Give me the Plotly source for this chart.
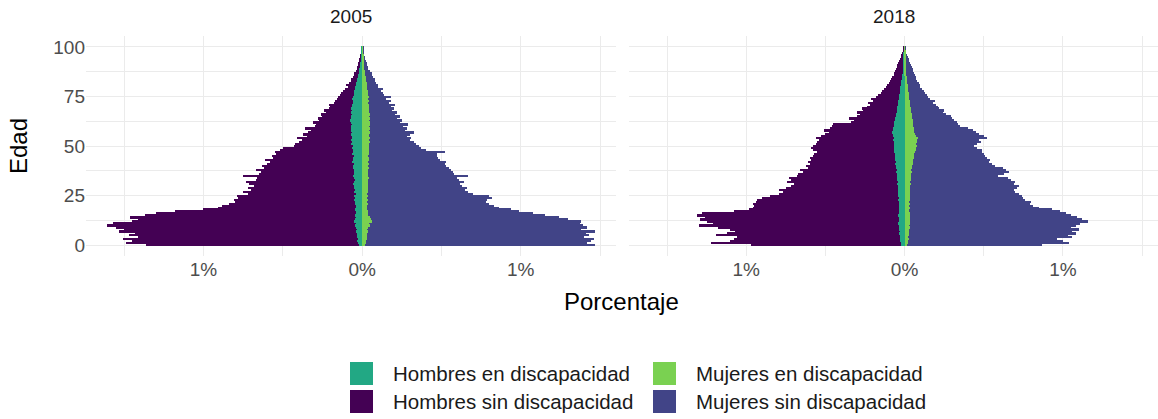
import plotly.graph_objects as go

ages = list(range(0, 101))

# ---- 2005 ----
hombres_sin_2005 = [
    -1.36, -1.49, -1.45, -1.51, -1.41, -1.47, -1.43, -1.53, -1.50, -1.55,
    -1.61, -1.57, -1.45, -1.41, -1.46, -1.37, -1.30, -1.18, -1.00, -0.91,
    -0.88, -0.84, -0.80, -0.81, -0.78, -0.79, -0.72, -0.75, -0.70, -0.72,
    -0.68, -0.71, -0.73, -0.67, -0.66, -0.75, -0.65, -0.64, -0.67, -0.62,
    -0.63, -0.60, -0.58, -0.61, -0.56, -0.57, -0.54, -0.55, -0.52, -0.50,
    -0.43, -0.42, -0.40, -0.38, -0.41, -0.35, -0.37, -0.34, -0.32, -0.36,
    -0.30, -0.29, -0.31, -0.27, -0.28, -0.25, -0.26, -0.23, -0.24, -0.21,
    -0.20, -0.21, -0.18, -0.17, -0.16, -0.15, -0.14, -0.13, -0.12, -0.11,
    -0.09, -0.10, -0.08, -0.07, -0.07, -0.06, -0.05, -0.05, -0.04, -0.035,
    -0.03, -0.028, -0.024, -0.02, -0.018, -0.015, -0.012, -0.009, -0.007, -0.005,
    -0.004,
]
mujeres_sin_2005 = [
    1.47, 1.42, 1.44, 1.46, 1.40, 1.43, 1.41, 1.47, 1.38, 1.42,
    1.39, 1.37, 1.38, 1.30, 1.24, 1.15, 1.08, 0.99, 0.94, 0.86,
    0.83, 0.80, 0.78, 0.79, 0.82, 0.80, 0.70, 0.67, 0.65, 0.66,
    0.63, 0.62, 0.64, 0.61, 0.60, 0.67, 0.58, 0.57, 0.56, 0.55,
    0.53, 0.52, 0.53, 0.49, 0.48, 0.47, 0.47, 0.52, 0.40, 0.37,
    0.36, 0.34, 0.33, 0.30, 0.31, 0.28, 0.30, 0.33, 0.27, 0.28,
    0.26, 0.29, 0.24, 0.25, 0.22, 0.24, 0.21, 0.22, 0.19, 0.20,
    0.18, 0.21, 0.17, 0.18, 0.15, 0.18, 0.14, 0.13, 0.12, 0.13,
    0.10, 0.10, 0.09, 0.08, 0.08, 0.07, 0.06, 0.06, 0.05, 0.04,
    0.04, 0.03, 0.03, 0.025, 0.02, 0.02, 0.015, 0.01, 0.01, 0.008,
    0.006,
]
hombres_en_2005 = [
    -0.020, -0.025, -0.030, -0.028, -0.035, -0.030, -0.032, -0.040, -0.035, -0.038,
    -0.045, -0.040, -0.050, -0.042, -0.038, -0.044, -0.036, -0.040, -0.045, -0.038,
    -0.040, -0.046, -0.042, -0.050, -0.044, -0.048, -0.040, -0.052, -0.046, -0.050,
    -0.048, -0.055, -0.050, -0.046, -0.052, -0.060, -0.050, -0.054, -0.048, -0.056,
    -0.058, -0.050, -0.062, -0.055, -0.060, -0.052, -0.064, -0.058, -0.060, -0.066,
    -0.060, -0.068, -0.062, -0.070, -0.064, -0.066, -0.072, -0.065, -0.070, -0.068,
    -0.072, -0.066, -0.070, -0.075, -0.068, -0.072, -0.066, -0.070, -0.064, -0.068,
    -0.062, -0.066, -0.060, -0.058, -0.062, -0.055, -0.050, -0.052, -0.048, -0.045,
    -0.042, -0.040, -0.036, -0.034, -0.030, -0.028, -0.025, -0.022, -0.020, -0.018,
    -0.015, -0.013, -0.011, -0.010, -0.008, -0.007, -0.006, -0.005, -0.004, -0.003,
    -0.002,
]
mujeres_en_2005 = [
    0.020, 0.025, 0.022, 0.030, 0.028, 0.032, 0.030, 0.035, 0.033, 0.040,
    0.050, 0.045, 0.060, 0.055, 0.050, 0.040, 0.038, 0.035, 0.030, 0.032,
    0.030, 0.034, 0.032, 0.036, 0.030, 0.035, 0.033, 0.038, 0.034, 0.036,
    0.035, 0.040, 0.036, 0.038, 0.042, 0.037, 0.040, 0.035, 0.039, 0.041,
    0.040, 0.044, 0.038, 0.042, 0.045, 0.040, 0.043, 0.046, 0.041, 0.044,
    0.045, 0.042, 0.048, 0.044, 0.050, 0.046, 0.043, 0.049, 0.045, 0.047,
    0.044, 0.048, 0.050, 0.046, 0.049, 0.045, 0.047, 0.043, 0.046, 0.044,
    0.042, 0.045, 0.040, 0.043, 0.039, 0.041, 0.038, 0.036, 0.035, 0.033,
    0.030, 0.032, 0.028, 0.026, 0.024, 0.022, 0.020, 0.018, 0.016, 0.014,
    0.012, 0.011, 0.010, 0.009, 0.008, 0.007, 0.006, 0.005, 0.004, 0.003,
    0.002,
]

# ---- 2018 ----
hombres_sin_2018 = [
    -0.97, -1.22, -1.10, -1.08, -1.06, -1.19, -1.12, -1.07, -1.10, -1.18,
    -1.30, -1.21, -1.25, -1.29, -1.26, -1.31, -1.28, -1.08, -0.98, -0.96,
    -0.95, -0.96, -0.94, -0.93, -0.90, -0.85, -0.79, -0.77, -0.79, -0.75,
    -0.72, -0.70, -0.74, -0.72, -0.73, -0.68, -0.67, -0.64, -0.66, -0.61,
    -0.62, -0.60, -0.61, -0.59, -0.60, -0.58, -0.57, -0.55, -0.58, -0.59,
    -0.58, -0.56, -0.55, -0.54, -0.56, -0.53, -0.50, -0.48, -0.51, -0.47,
    -0.46, -0.45, -0.34, -0.32, -0.35, -0.30, -0.28, -0.30, -0.26, -0.27,
    -0.24, -0.22, -0.23, -0.20, -0.21, -0.18, -0.17, -0.15, -0.14, -0.13,
    -0.12, -0.11, -0.10, -0.09, -0.085, -0.08, -0.07, -0.065, -0.06, -0.055,
    -0.05, -0.045, -0.04, -0.035, -0.03, -0.025, -0.02, -0.016, -0.012, -0.009,
    -0.007,
]
mujeres_sin_2018 = [
    0.87, 1.04, 1.00, 0.96, 1.06, 1.03, 1.08, 1.06, 1.10, 1.05,
    1.08, 1.11, 1.16, 1.12, 1.09, 1.05, 1.02, 0.98, 0.93, 0.85,
    0.81, 0.79, 0.80, 0.76, 0.75, 0.74, 0.72, 0.70, 0.69, 0.71,
    0.72, 0.69, 0.70, 0.67, 0.65, 0.59, 0.63, 0.66, 0.64, 0.62,
    0.57, 0.55, 0.53, 0.54, 0.52, 0.51, 0.50, 0.49, 0.49, 0.46,
    0.44, 0.46, 0.48, 0.47, 0.52, 0.50, 0.47, 0.45, 0.43, 0.40,
    0.35, 0.34, 0.33, 0.31, 0.30, 0.29, 0.26, 0.24, 0.25, 0.22,
    0.21, 0.20, 0.18, 0.19, 0.16, 0.15, 0.14, 0.13, 0.12, 0.11,
    0.10, 0.095, 0.09, 0.08, 0.075, 0.07, 0.065, 0.06, 0.055, 0.05,
    0.045, 0.04, 0.035, 0.03, 0.025, 0.02, 0.016, 0.012, 0.009, 0.007,
    0.005,
]
hombres_en_2018 = [
    -0.020, -0.025, -0.030, -0.028, -0.032, -0.030, -0.034, -0.030, -0.036, -0.033,
    -0.035, -0.040, -0.036, -0.038, -0.034, -0.040, -0.037, -0.035, -0.038, -0.034,
    -0.036, -0.038, -0.035, -0.040, -0.037, -0.042, -0.039, -0.041, -0.044, -0.040,
    -0.043, -0.046, -0.042, -0.048, -0.045, -0.050, -0.047, -0.052, -0.050, -0.055,
    -0.053, -0.058, -0.055, -0.060, -0.058, -0.063, -0.060, -0.066, -0.064, -0.068,
    -0.066, -0.070, -0.068, -0.074, -0.070, -0.076, -0.072, -0.078, -0.074, -0.072,
    -0.070, -0.068, -0.064, -0.062, -0.058, -0.055, -0.052, -0.050, -0.048, -0.046,
    -0.045, -0.043, -0.042, -0.040, -0.038, -0.036, -0.034, -0.032, -0.030, -0.028,
    -0.026, -0.024, -0.022, -0.020, -0.018, -0.016, -0.014, -0.013, -0.012, -0.011,
    -0.010, -0.009, -0.008, -0.007, -0.006, -0.005, -0.004, -0.004, -0.003, -0.003,
    -0.002,
]
mujeres_en_2018 = [
    0.015, 0.020, 0.022, 0.025, 0.024, 0.028, 0.026, 0.030, 0.028, 0.032,
    0.030, 0.034, 0.032, 0.036, 0.033, 0.035, 0.032, 0.030, 0.028, 0.031,
    0.030, 0.032, 0.029, 0.033, 0.031, 0.034, 0.032, 0.035, 0.033, 0.036,
    0.035, 0.038, 0.036, 0.040, 0.038, 0.042, 0.040, 0.044, 0.042, 0.046,
    0.048, 0.052, 0.050, 0.055, 0.058, 0.062, 0.060, 0.066, 0.070, 0.075,
    0.078, 0.072, 0.080, 0.076, 0.085, 0.070, 0.066, 0.062, 0.060, 0.058,
    0.056, 0.054, 0.052, 0.050, 0.048, 0.046, 0.044, 0.042, 0.040, 0.038,
    0.036, 0.035, 0.033, 0.032, 0.030, 0.029, 0.027, 0.026, 0.024, 0.022,
    0.020, 0.019, 0.017, 0.016, 0.014, 0.013, 0.012, 0.011, 0.010, 0.009,
    0.008, 0.007, 0.006, 0.006, 0.005, 0.004, 0.004, 0.003, 0.003, 0.002,
    0.002,
]

years = ["2005", "2018"]
series_names = ["Hombres sin discapacidad", "Mujeres sin discapacidad",
                "Hombres en discapacidad", "Mujeres en discapacidad"]
colors = {
    "Hombres en discapacidad": "#22A884",
    "Mujeres en discapacidad": "#7AD151",
    "Hombres sin discapacidad": "#440154",
    "Mujeres sin discapacidad": "#414487",
}
data = {
    "2005": [hombres_sin_2005, mujeres_sin_2005, hombres_en_2005, mujeres_en_2005],
    "2018": [hombres_sin_2018, mujeres_sin_2018, hombres_en_2018, mujeres_en_2018],
}
x_ticks = [-1, 0, 1]
x_tick_labels = ["1%", "0%", "1%"]
x_minor = [-1.5, -0.5, 0.5, 1.5]
y_ticks = [0, 25, 50, 75, 100]
y_minor = [12.5, 37.5, 62.5, 87.5]

FONT = "Liberation Sans, Arial, sans-serif"
W, H = 1158, 419
L, R, T, B = 86, 0, 36, 163
PW, PH = W - L - R, H - T - B


def px(xp):
    return (xp - L) / PW


def py(yp):
    return (H - B - yp) / PH


fig = go.Figure()
axes = [("x", "y"), ("x2", "y2")]
for (xa, ya), yr in zip(axes, years):
    for name, vals in zip(series_names, data[yr]):
        fig.add_trace(go.Bar(
            x=vals, y=ages, orientation="h", width=0.9,
            marker=dict(color=colors[name], line=dict(width=0)),
            name=name, showlegend=False, xaxis=xa, yaxis=ya,
            hovertemplate="%{y}: %{x}<extra>" + name + "</extra>",
        ))

grid = "#EBEBEB"
xcommon = dict(
    range=[-1.74, 1.60], tickvals=x_ticks, ticktext=x_tick_labels,
    showgrid=True, gridcolor=grid, gridwidth=1.4, zeroline=False, showline=False,
    ticks="", tickfont=dict(family=FONT, size=19, color="#4D4D4D"),
    minor=dict(tickvals=x_minor, showgrid=True, gridcolor=grid, gridwidth=0.7),
    fixedrange=True, automargin=False,
)
ycommon = dict(
    range=[-5.55, 105.55], tickvals=y_ticks,
    showgrid=True, gridcolor=grid, gridwidth=1.4, zeroline=False, showline=False,
    ticks="", tickfont=dict(family=FONT, size=19, color="#4D4D4D"),
    minor=dict(tickvals=y_minor, showgrid=True, gridcolor=grid, gridwidth=0.7),
    fixedrange=True, automargin=False,
)
fig.update_layout(
    width=W, height=H,
    margin=dict(l=L, r=R, t=T, b=B, pad=0),
    paper_bgcolor="white", plot_bgcolor="white",
    barmode="overlay", bargap=0,
    showlegend=False,
    xaxis=dict(domain=[0, px(616)], anchor="y", **xcommon),
    xaxis2=dict(domain=[px(629), 1], anchor="y2", **xcommon),
    yaxis=dict(anchor="x", **ycommon),
    yaxis2=dict(anchor="x2", matches="y", showticklabels=False,
                **{k: v for k, v in ycommon.items() if k != "tickfont"}),
    font=dict(family=FONT),
)

annotations = []
# facet strip labels
for xa, yr in zip(["x", "x2"], years):
    annotations.append(dict(
        text=yr, xref=xa + " domain", x=0.5, yref="paper", y=py(17),
        xanchor="center", yanchor="middle", showarrow=False,
        font=dict(family=FONT, size=19, color="#1A1A1A"),
    ))
# axis titles
annotations.append(dict(
    text="Porcentaje", xref="paper", x=px(621), yref="paper", y=py(301),
    xanchor="center", yanchor="middle", showarrow=False,
    font=dict(family=FONT, size=24, color="#000000"),
))
annotations.append(dict(
    text="Edad", xref="paper", x=px(18), yref="paper", y=0.5, textangle=-90,
    xanchor="center", yanchor="middle", showarrow=False,
    font=dict(family=FONT, size=24, color="#000000"),
))

# legend (2 x 2)
legend_items = [
    ("Hombres en discapacidad", 350, 362),
    ("Mujeres en discapacidad", 653, 362),
    ("Hombres sin discapacidad", 350, 390),
    ("Mujeres sin discapacidad", 653, 390),
]
shapes = []
key = 23
for name, kx, ky in legend_items:
    shapes.append(dict(
        type="rect", xref="paper", yref="paper",
        x0=px(kx), x1=px(kx + key), y0=py(ky + key), y1=py(ky),
        fillcolor=colors[name], line=dict(width=0), layer="above",
    ))
    annotations.append(dict(
        text=name, xref="paper", x=px(kx + key + 18), yref="paper", y=py(ky + key / 2),
        xanchor="left", yanchor="middle", showarrow=False,
        font=dict(family=FONT, size=20.5, color="#1A1A1A"),
    ))

fig.update_layout(annotations=annotations, shapes=shapes)
fig.write_html("out.html", config={"displayModeBar": False},
               post_script="document.body.style.margin='0px';")
